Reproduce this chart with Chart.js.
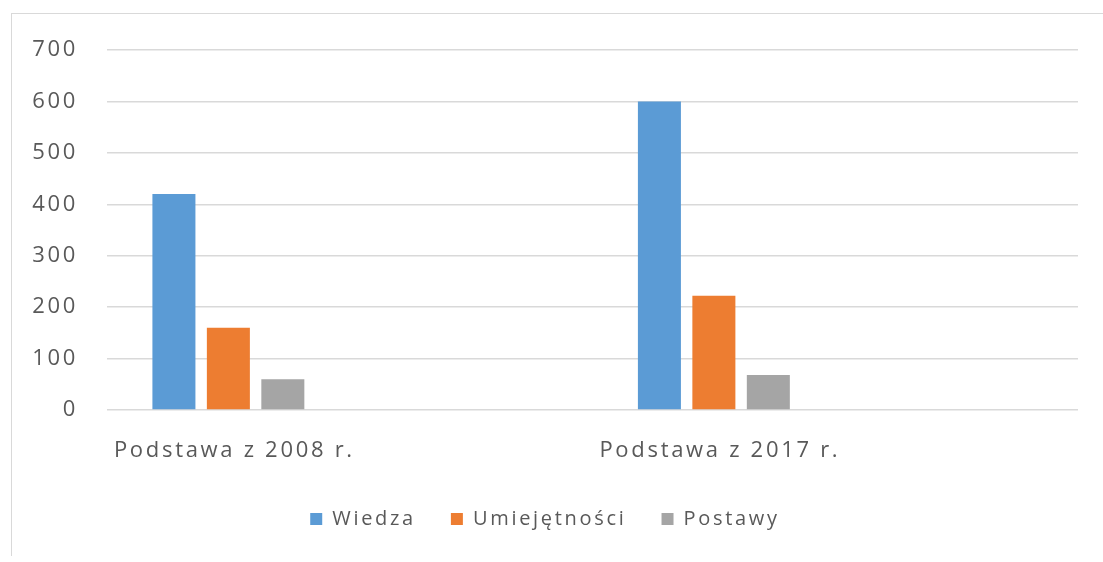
<!DOCTYPE html>
<html>
<head>
<meta charset="utf-8">
<script src="https://cdn.jsdelivr.net/npm/chart.js@4"></script>
<style>
  html, body { margin: 0; padding: 0; background: #fff; }
  #wrap { position: relative; width: 1103px; height: 562px; overflow: hidden; }
  #frame { position: absolute; left: 11px; top: 13px; width: 1200px; height: 542px;
           border-left: 1px solid #d9d9d9; border-top: 1px solid #d9d9d9; }
  canvas { position: absolute; left: 0; top: 0; }
</style>
</head>
<body>
<div id="wrap">
  <div id="frame"></div>
  <canvas id="chart" width="1103" height="562"></canvas>
</div>
<script>
// kategorie (puste miejsca jak w oryginale z Excela)
const categories = ['Podstawa z 2008 r.', '', 'Podstawa z 2017 r.', ''];
const wiedza = [420, null, 600, null];
const umiejetnosci = [160, null, 222, null];
const postawy = [60, null, 68, null];

const textColor = '#595959';
const fontFamily = '"Open Sans", sans-serif';

// rozstrzelony tekst jak w Excelu
const spacingPlugin = {
    id: 'spacing',
    beforeLayout: chart => { chart.ctx.letterSpacing = '2.7px'; },
    beforeDraw: chart => { chart.ctx.letterSpacing = '2.7px'; }
};

new Chart(document.getElementById('chart'), {
    type: 'bar',
    data: {
        labels: categories,
        datasets: [
            { label: 'Wiedza', data: wiedza, backgroundColor: '#5B9BD5' },
            { label: 'Umiejętności', data: umiejetnosci, backgroundColor: '#ED7D31' },
            { label: 'Postawy', data: postawy, backgroundColor: '#A5A5A5' }
        ]
    },
    plugins: [spacingPlugin],
    options: {
        responsive: false,
        animation: false,
        categoryPercentage: 0.673,
        barPercentage: 0.79,
        layout: { padding: { left: 12, right: 25, top: 50, bottom: 23 } },
        plugins: {
            tooltip: { enabled: false },
            legend: {
                position: 'bottom',
                labels: {
                    boxWidth: 12,
                    boxHeight: 12,
                    padding: 35,
                    color: textColor,
                    font: { family: fontFamily, size: 20 }
                }
            }
        },
        scales: {
            x: {
                afterFit: scale => { scale.height = 64; },
                grid: { display: false },
                border: { display: false },
                ticks: {
                    color: textColor,
                    padding: 20,
                    labelOffset: 6,
                    maxRotation: 0,
                    autoSkip: false,
                    font: { family: fontFamily, size: 22 }
                }
            },
            y: {
                min: 0,
                max: 700,
                afterFit: scale => { scale.width = 95; },
                border: { display: false },
                grid: { color: '#d9d9d9', drawTicks: false, lineWidth: 1.5 },
                ticks: {
                    stepSize: 100,
                    padding: 29,
                    color: textColor,
                    font: { family: fontFamily, size: 22 }
                }
            }
        }
    }
});
</script>
</body>
</html>
